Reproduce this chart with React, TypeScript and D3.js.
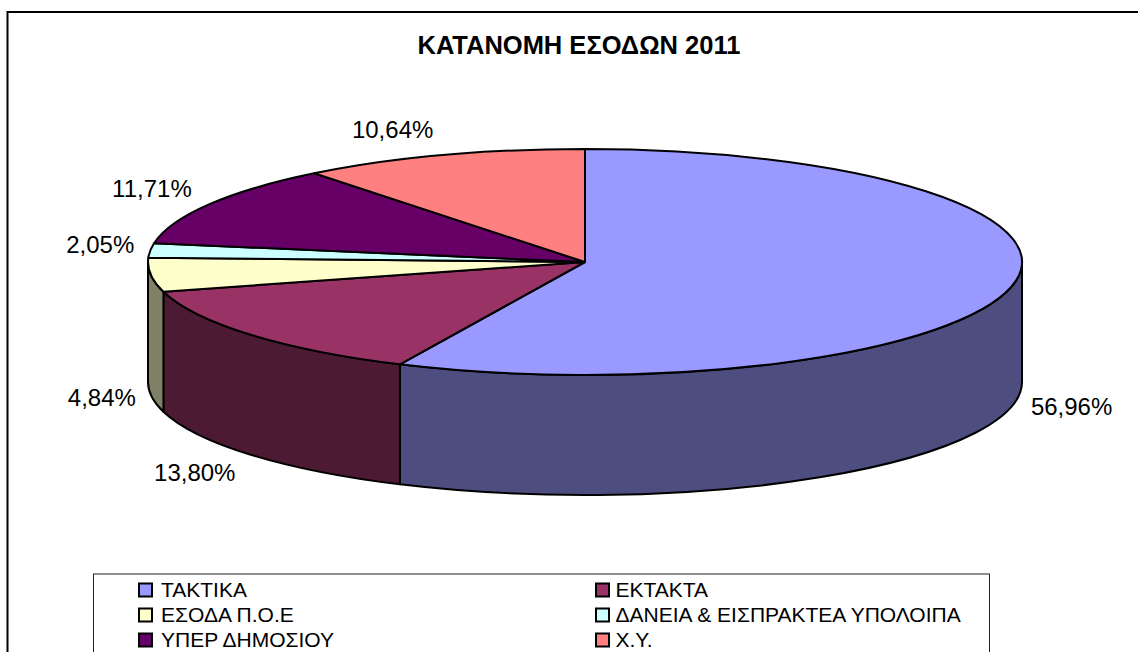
import React from "react";
import * as d3 from "d3";

const title = "ΚΑΤΑΝΟΜΗ ΕΣΟΔΩΝ 2011";
const categories = ["ΤΑΚΤΙΚΑ", "ΕΚΤΑΚΤΑ", "ΕΣΟΔΑ Π.Ο.Ε", "ΔΑΝΕΙΑ & ΕΙΣΠΡΑΚΤΕΑ ΥΠΟΛΟΙΠΑ", "ΥΠΕΡ ΔΗΜΟΣΙΟΥ", "Χ.Υ."];
const values = [56.96, 13.8, 4.84, 2.05, 11.71, 10.64];
const valueLabels = ["56,96%", "13,80%", "4,84%", "2,05%", "11,71%", "10,64%"];
const topColors = ["#9999ff", "#993366", "#ffffcc", "#ccffff", "#660066", "#ff8080"];
const sideColors = ["#4d4d80", "#4d1a33", "#808066", "#668080", "#330033", "#804040"];

// label placement relative to each slice's rim mid-point
const labelDx = [60, -56, -49, -50, -57, -49];
const labelDy = [119.5, 137, 122, -6.5, -16, -26];

const W = 1138, H = 652;
const cx = 585, cy = 262, rx = 437, ry = 113, depth = 120;
const FONT = '"Liberation Sans", Arial, sans-serif';

const px = (a: number) => cx + rx * Math.sin(a);
const py = (a: number) => cy - ry * Math.cos(a);

const pieGen = d3.pie<number>().sort(null).value((d) => d);
const arcs = pieGen(values);

function topPath(a0: number, a1: number) {
  const large = a1 - a0 > Math.PI ? 1 : 0;
  return `M${cx},${cy}L${px(a0)},${py(a0)}A${rx},${ry} 0 ${large} 1 ${px(a1)},${py(a1)}Z`;
}
function sidePath(a0: number, a1: number) {
  const s = Math.max(a0, Math.PI / 2), e = Math.min(a1, (3 * Math.PI) / 2);
  if (e <= s) return null;
  return `M${px(s)},${py(s)}A${rx},${ry} 0 0 1 ${px(e)},${py(e)}L${px(e)},${py(e) + depth}A${rx},${ry} 0 0 0 ${px(s)},${py(s) + depth}Z`;
}

const legendSwatchX = [139, 596];
const legendTextX = [161, 615.5];
const legendRows = [590, 615, 640];

export default function App() {
  return (
    <svg width={W} height={H} style={{ position: "absolute", left: 0, top: 0, background: "#fff" }} fontFamily={FONT}>
      <rect x={7.5} y={12} width={W + 20} height={H + 20} fill="#fff" stroke="#000" strokeWidth={2} />
      <text x={579} y={53.5} textAnchor="middle" fontSize={25.5} fontWeight="bold">{title}</text>
      {arcs.map((d, i) => {
        const p = sidePath(d.startAngle, d.endAngle);
        return p ? <path key={i} d={p} fill={sideColors[i]} stroke="#000" strokeWidth={2} strokeLinejoin="round" /> : null;
      })}
      {arcs.map((d, i) => (
        <path key={i} d={topPath(d.startAngle, d.endAngle)} fill={topColors[i]} stroke="#000" strokeWidth={2} strokeLinejoin="round" />
      ))}
      {arcs.map((d, i) => {
        const m = (d.startAngle + d.endAngle) / 2;
        return (
          <text key={i} x={px(m) + labelDx[i]} y={py(m) + labelDy[i] + 9} textAnchor="middle" fontSize={24}>
            {valueLabels[i]}
          </text>
        );
      })}
      <rect x={93.5} y={574} width={896} height={H} fill="#fff" stroke="#222" strokeWidth={1} />
      {categories.map((c, i) => {
        const col = i % 2, y = legendRows[Math.floor(i / 2)];
        return (
          <g key={i}>
            <rect x={legendSwatchX[col]} y={y - 6.5} width={13} height={13} fill={topColors[i]} stroke="#000" strokeWidth={2} />
            <text x={legendTextX[col]} y={y + 7} fontSize={21}>{c}</text>
          </g>
        );
      })}
    </svg>
  );
}
